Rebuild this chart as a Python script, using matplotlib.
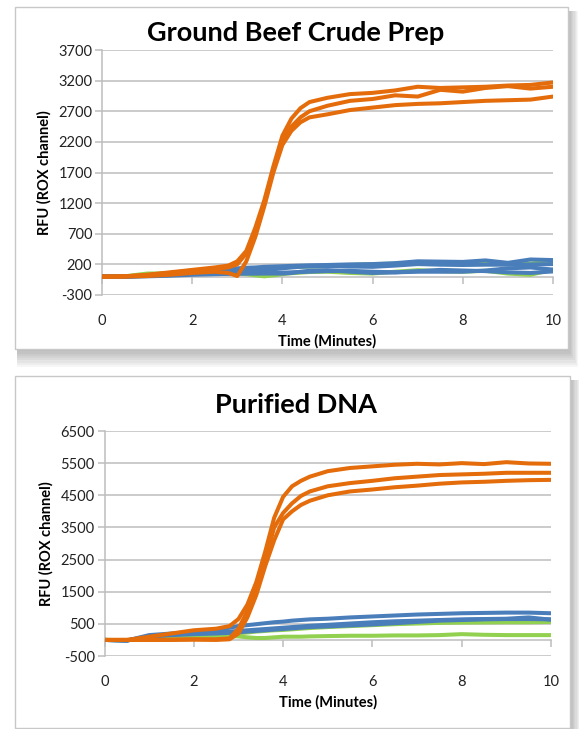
import matplotlib
matplotlib.use("Agg")
import matplotlib.pyplot as plt
from matplotlib.patches import Rectangle

plt.rcParams['font.family'] = ['Lato', 'DejaVu Sans']
plt.rcParams['axes.unicode_minus'] = False

# ---------------- data ----------------
t = [0, 0.5, 1, 1.5, 2, 2.5, 2.8, 3.0, 3.2, 3.4, 3.6, 3.8, 4.0, 4.2, 4.4, 4.6,
     5, 5.5, 6, 6.5, 7, 7.5, 8, 8.5, 9, 9.5, 10]

# Ground Beef Crude Prep
beef_orange = [
    [0, 5, 30, 70, 110, 150, 180, 250, 420, 800, 1250, 1800, 2300, 2580, 2750, 2850,
     2920, 2980, 3000, 3040, 3100, 3080, 3090, 3100, 3120, 3130, 3170],
    [0, 5, 25, 60, 100, 130, 150, 200, 380, 740, 1200, 1750, 2200, 2450, 2600, 2700,
     2790, 2870, 2900, 2960, 2940, 3050, 3020, 3080, 3110, 3070, 3100],
    [0, 0, 10, 30, 60, 80, 60, 10, 250, 650, 1150, 1700, 2150, 2380, 2520, 2600,
     2650, 2720, 2760, 2800, 2820, 2830, 2850, 2870, 2880, 2890, 2940],
]
beef_blue = [
    [0, 0, 20, 40, 70, 100, 120, 135, 145, 150, 160, 165, 170, 175, 180, 185,
     190, 200, 205, 220, 250, 245, 240, 265, 225, 280, 270],
    [0, 0, 15, 35, 60, 70, 75, 80, 90, 100, 110, 120, 135, 150, 160, 165,
     170, 165, 160, 180, 205, 195, 190, 195, 195, 200, 205],
    [0, 0, 10, 25, 45, 50, 50, 50, 50, 50, 50, 50, 50, 60, 80, 95,
     105, 80, 60, 70, 80, 80, 80, 100, 135, 150, 115],
    [0, 0, 5, 15, 30, 40, 45, 50, 55, 55, 60, 60, 65, 70, 75, 80,
     90, 95, 80, 70, 90, 110, 100, 90, 70, 60, 85],
]
beef_green = [
    [0, 5, 50, 55, 60, 60, 55, 50, 40, 20, 5, 20, 40, 55, 65, 75,
     80, 60, 50, 80, 105, 90, 80, 95, 50, 30, 115],
    [0, 0, 20, 40, 60, 80, 90, 100, 110, 120, 130, 140, 150, 155, 160, 165,
     170, 190, 205, 210, 215, 210, 205, 205, 205, 215, 240],
]

# Purified DNA
dna_orange = [
    [0, 0, 100, 200, 300, 350, 430, 650, 1100, 1800, 2750, 3800, 4450, 4780, 4950, 5080,
     5250, 5350, 5400, 5450, 5480, 5460, 5500, 5470, 5530, 5490, 5480],
    [0, 0, 0, 10, 20, 20, 50, 350, 900, 1600, 2500, 3500, 3950, 4250, 4480, 4620,
     4780, 4880, 4950, 5030, 5080, 5130, 5150, 5170, 5200, 5200, 5200],
    [0, 0, 0, 0, 10, 0, 20, 200, 700, 1400, 2300, 3100, 3750, 4000, 4200, 4330,
     4500, 4620, 4680, 4750, 4800, 4860, 4900, 4920, 4950, 4970, 4980],
]
dna_blue = [
    [0, -20, 150, 200, 250, 320, 380, 430, 460, 490, 520, 550, 570, 600, 620, 640,
     660, 700, 730, 760, 790, 810, 830, 840, 850, 850, 830],
    [0, -20, 120, 170, 200, 230, 260, 280, 300, 320, 340, 360, 380, 400, 420, 440,
     470, 510, 550, 580, 600, 620, 640, 650, 660, 700, 630],
    [0, -20, 100, 150, 180, 200, 220, 240, 260, 280, 300, 320, 340, 360, 380, 400,
     420, 450, 480, 520, 560, 600, 620, 640, 650, 650, 640],
]
dna_green = [
    [0, -10, 80, 120, 150, 170, 190, 210, 230, 260, 280, 300, 310, 330, 350, 370,
     400, 430, 460, 490, 510, 530, 540, 545, 550, 550, 560],
    [0, -10, 70, 90, 100, 110, 120, 110, 80, 60, 60, 80, 100, 100, 100, 110,
     120, 130, 130, 140, 140, 150, 180, 160, 150, 150, 150],
]

beef_yticks = [-300, 200, 700, 1200, 1700, 2200, 2700, 3200, 3700]
dna_yticks = [-500, 500, 1500, 2500, 3500, 4500, 5500, 6500]
xticks = [0, 2, 4, 6, 8, 10]

titles = ["Ground Beef Crude Prep", "Purified DNA"]
xlabel = "Time (Minutes)"
ylabel = "RFU (ROX channel)"

ORANGE = "#E46C0A"
BLUE = "#4A7EBB"
GREEN = "#92D050"
GRID = "#BDBDBD"

W, H = 579, 729
fig = plt.figure(figsize=(W / 100, H / 100), dpi=100)


def px_rect(x0, y0, x1, y1):
    return (x0 / W, 1 - y1 / H, (x1 - x0) / W, (y1 - y0) / H)


def panel(x0, y0, x1, y1):
    # soft shadow
    for i in range(8, 0, -1):
        l, b, w, h = px_rect(x0 + 2, y0 + 4, x1 + i * 1.3, y1 + i * 2.3)
        fig.patches.append(Rectangle((l, b), w, h, transform=fig.transFigure,
                                     facecolor="#000000", alpha=0.035,
                                     edgecolor="none", zorder=0))
    l, b, w, h = px_rect(x0, y0, x1, y1)
    fig.patches.append(Rectangle((l, b), w, h, transform=fig.transFigure,
                                 facecolor="white", edgecolor="#C8C8C8",
                                 linewidth=1.0, zorder=1))


panel(15, 7, 568, 349)
panel(15, 376, 570, 728)


def make_axes(rect_px, yticks, oranges, blues, greens, title, title_y):
    x0, y0, x1, y1 = rect_px
    ax = fig.add_axes(px_rect(x0, y0, x1, y1))
    ax.set_zorder(2)
    ax.patch.set_alpha(0)
    ymin, ymax = yticks[0], yticks[-1]
    kw = dict(lw=2.9, solid_joinstyle="round", solid_capstyle="round")
    for s in greens:
        ax.plot(t, s, color=GREEN, zorder=3, **kw)
    for s in blues:
        ax.plot(t, s, color=BLUE, zorder=4, **kw)
    for s in oranges:
        ax.plot(t, s, color=ORANGE, zorder=5, **kw)
    ax.set_xlim(0, 10)
    ax.set_ylim(ymin, ymax)
    ax.set_yticks(yticks)
    ax.set_xticks(xticks)
    ax.yaxis.grid(True, color=GRID, lw=1.1, zorder=1)
    ax.set_axisbelow(True)
    for sp in ["top", "right", "bottom"]:
        ax.spines[sp].set_visible(False)
    ax.spines["left"].set_color(GRID)
    ax.spines["left"].set_linewidth(1.1)
    ax.tick_params(axis="y", length=5, width=1.1, color=GRID, labelsize=10.5,
                   labelcolor="#222222", pad=2)
    ax.tick_params(axis="x", length=0, labelsize=10.5, labelcolor="#222222", pad=14)
    # horizontal axis crossing at zero with tick marks
    frac = (0 - ymin) / (ymax - ymin)
    sec = ax.secondary_xaxis(frac)
    sec.set_xticks(xticks)
    sec.set_xticklabels([])
    sec.spines["bottom"].set_color(GRID)
    sec.spines["bottom"].set_linewidth(1.1)
    sec.tick_params(axis="x", length=5, width=1.1, color=GRID, direction="out")
    ax.set_xlabel(xlabel, fontsize=10.5, fontweight="bold", labelpad=4)
    ax.set_ylabel(ylabel, fontsize=10.5, fontweight="bold", labelpad=5)
    fig.text(296 / W, 1 - title_y / H, title, fontsize=19.5, fontweight="bold",
             ha="center", va="center", color="black", zorder=3)
    return ax


ax1 = make_axes((102, 50, 553, 295), beef_yticks, beef_orange, beef_blue, beef_green,
                titles[0], 33)
ax2 = make_axes((104.5, 431, 551, 656), dna_yticks, dna_orange, dna_blue, dna_green,
                titles[1], 405)

fig.savefig("out.png", dpi=100)
